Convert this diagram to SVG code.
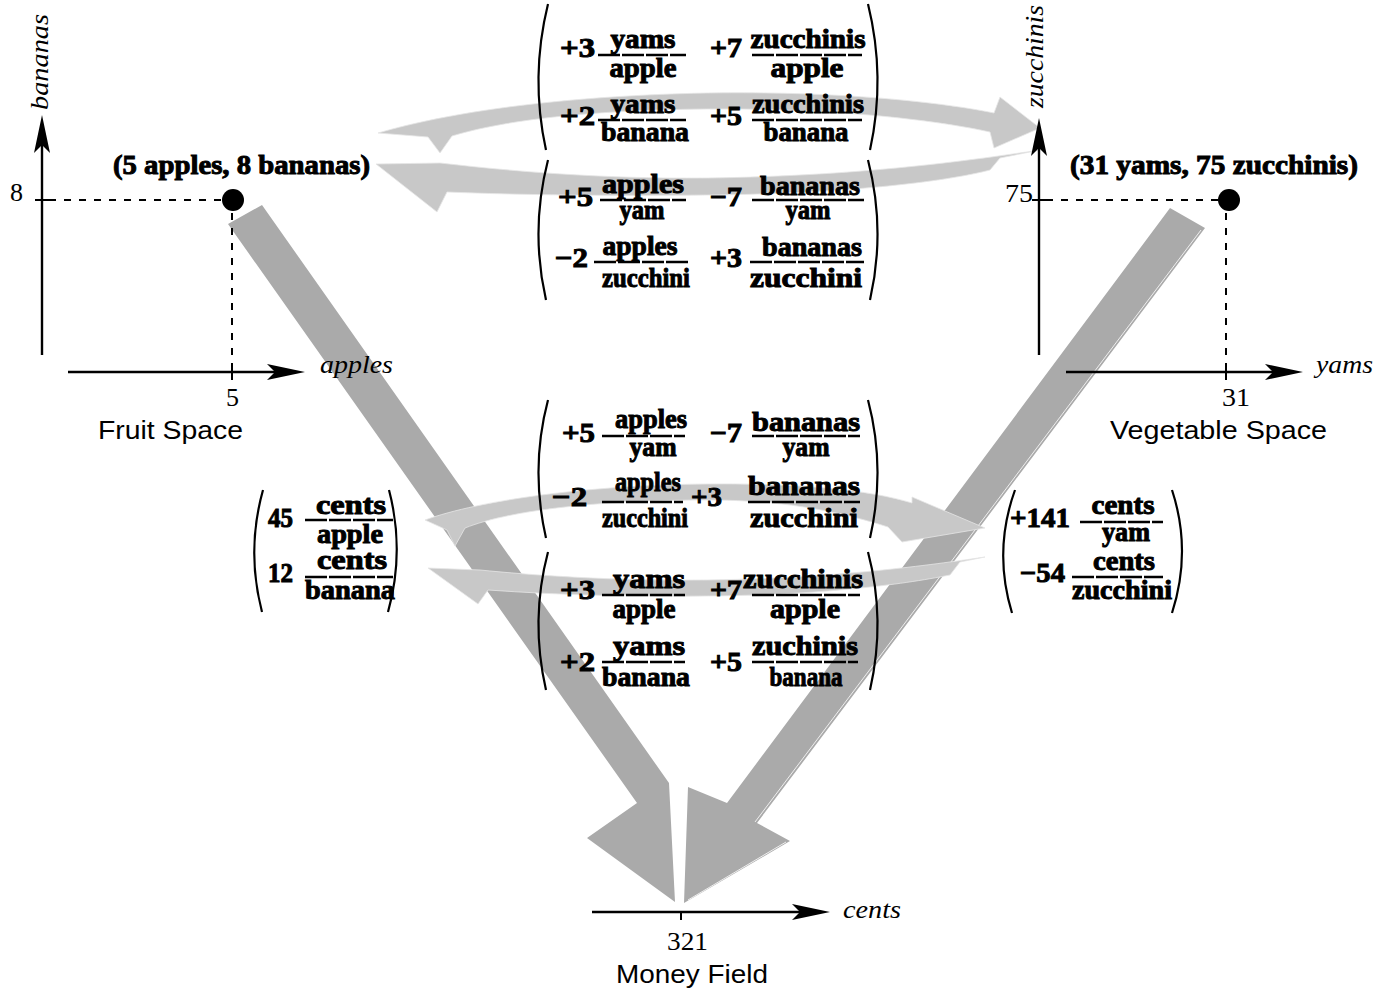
<svg xmlns="http://www.w3.org/2000/svg" width="1391" height="990" viewBox="0 0 1391 990">
<style>
.ax{stroke:#000;stroke-width:2.4;fill:none}
.tick{stroke:#000;stroke-width:2;fill:none}
.dash{stroke:#000;stroke-width:2;stroke-dasharray:7,8;fill:none}
.it{font-family:"Liberation Serif",serif;font-style:italic;font-size:26px;fill:#000}
.num{font-family:"Liberation Serif",serif;font-size:26px;fill:#000}
.sp{font-family:"Liberation Sans",Arial,sans-serif;font-size:26px;fill:#000}
.m{font-family:"Liberation Serif",serif;font-weight:bold;font-size:28px;fill:#000;stroke:#000;stroke-width:1}
.mc{font-family:"Liberation Serif",serif;font-weight:bold;font-size:28px;fill:#000;stroke:#000;stroke-width:1;text-anchor:middle}
.bar{stroke:#000;stroke-width:2.4;stroke-dasharray:22,2}
.par{stroke:#000;stroke-width:2.2;fill:none}
.big{fill:#aaaaaa}
.cur{fill:#c8c8c8;stroke:#e6e6e6;stroke-width:0.8}
.hl{stroke:#ffffff;stroke-width:1;fill:none;opacity:0.8}
</style>
<defs>
<path id="ah" d="M0,0 L-38,-8 L-30,0 L-38,8 Z" fill="#000"/>
</defs>

<rect width="1391" height="990" fill="#fff"/>

<g id="connectors">
  <path class="big" d="M228,224 L262,205 L669,783 L675,902 L587,838 L637,803 Z"/>
  <path class="big" d="M1170,208 L1205,228 L757,823 L790,841 L684,903 L688,787 L727,803 Z"/>
  <path class="hl" d="M1201,230 L755,822"/>
  <path class="hl" d="M671,786 L676,900"/>
  <path class="hl" d="M688,900 L786,842"/>
  <path class="cur" d="M378,133 C450,112 560,96 707,93 C840,91 940,102 994,113 L1000,97 L1040,128 L994,148 L990,132 C935,120 835,108 707,109 C590,110 505,120 452,136 L440,153 L428,137 Z"/>
  <path class="cur" d="M1040,150 C985,158 870,176 707,178 C600,179 510,171 440,163 L376,164 L437,212 L447,192 C520,195 610,196 707,195 C840,194 945,182 990,170 L1000,158 Z"/>
  <path class="cur" d="M425,520 C480,500 590,485 707,484 C800,483 870,490 912,503 L912,497 L985,528 L902,542 L888,527 C820,505 760,500 707,500 C600,500 510,510 465,528 L455,546 L447,530 Z"/>
  <path class="cur" d="M985,557 C930,565 840,578 707,580 C610,581 530,575 480,570 L428,568 L478,604 L488,590 C560,595 630,597 707,596 C820,595 900,585 950,575 L960,562 Z"/>
</g>

<g id="fruit-space">
  <line class="ax" x1="42" y1="355" x2="42" y2="125"/>
  <use href="#ah" transform="translate(42,115) rotate(-90)"/>
  <line class="ax" x1="68" y1="372" x2="295" y2="372"/>
  <use href="#ah" transform="translate(305,372)"/>
  <line class="tick" x1="232" y1="366" x2="232" y2="380"/>
  <line class="tick" x1="35" y1="200" x2="49" y2="200"/>
  <line class="dash" x1="49" y1="200" x2="222" y2="200"/>
  <line class="dash" x1="232" y1="213" x2="232" y2="366"/>
  <circle cx="233" cy="200" r="11" fill="#000"/>
  <text class="it" transform="translate(48,110) rotate(-90)" textLength="96" lengthAdjust="spacingAndGlyphs">bananas</text>
  <text class="it" x="320" y="373" textLength="73" lengthAdjust="spacingAndGlyphs">apples</text>
  <text class="num" x="10" y="201">8</text>
  <text class="num" x="226" y="406">5</text>
  <text class="sp" x="98" y="439" textLength="145" lengthAdjust="spacingAndGlyphs">Fruit Space</text>
  <text class="m" x="113" y="174" textLength="257" lengthAdjust="spacingAndGlyphs">(5 apples, 8 bananas)</text>
</g>

<g id="vegetable-space">
  <line class="ax" x1="1039" y1="355" x2="1039" y2="128"/>
  <use href="#ah" transform="translate(1039,118) rotate(-90)"/>
  <line class="ax" x1="1066" y1="372" x2="1293" y2="372"/>
  <use href="#ah" transform="translate(1303,372)"/>
  <line class="tick" x1="1226" y1="366" x2="1226" y2="380"/>
  <line class="tick" x1="1032" y1="200" x2="1046" y2="200"/>
  <line class="dash" x1="1046" y1="200" x2="1218" y2="200"/>
  <line class="dash" x1="1226" y1="213" x2="1226" y2="366"/>
  <circle cx="1229" cy="200" r="11" fill="#000"/>
  <text class="it" transform="translate(1043,108) rotate(-90)" textLength="103" lengthAdjust="spacingAndGlyphs">zucchinis</text>
  <text class="it" x="1316" y="373" textLength="57" lengthAdjust="spacingAndGlyphs">yams</text>
  <text class="num" x="1005" y="202" textLength="28" lengthAdjust="spacingAndGlyphs">75</text>
  <text class="num" x="1222" y="406" textLength="28" lengthAdjust="spacingAndGlyphs">31</text>
  <text class="sp" x="1110" y="439" textLength="217" lengthAdjust="spacingAndGlyphs">Vegetable Space</text>
  <text class="m" x="1070" y="174" textLength="288" lengthAdjust="spacingAndGlyphs">(31 yams, 75 zucchinis)</text>
</g>

<g id="money-field">
  <line class="ax" x1="592" y1="912" x2="820" y2="912"/>
  <use href="#ah" transform="translate(830,912)"/>
  <line class="tick" x1="681" y1="912" x2="681" y2="920"/>
  <text class="it" x="843" y="918" textLength="58" lengthAdjust="spacingAndGlyphs">cents</text>
  <text class="num" x="667" y="950" textLength="41" lengthAdjust="spacingAndGlyphs">321</text>
  <text class="sp" x="616" y="983" textLength="152" lengthAdjust="spacingAndGlyphs">Money Field</text>
</g>

<g id="matrix-fruit-to-veg">
  <path class="par" d="M548,4 Q530,77 546,150"/>
  <path class="par" d="M868,4 Q886,77 870,150"/>
  <text class="m" x="560" y="57" textLength="35" lengthAdjust="spacingAndGlyphs">+3</text>
  <line class="bar" x1="598" y1="55" x2="686" y2="55"/>
  <text class="mc" x="643" y="48" textLength="65" lengthAdjust="spacingAndGlyphs">yams</text>
  <text class="mc" x="643" y="77" textLength="67" lengthAdjust="spacingAndGlyphs">apple</text>
  <text class="m" x="710" y="57" textLength="32" lengthAdjust="spacingAndGlyphs">+7</text>
  <line class="bar" x1="752" y1="55" x2="862" y2="55"/>
  <text class="mc" x="808" y="48" textLength="115" lengthAdjust="spacingAndGlyphs">zucchinis</text>
  <text class="mc" x="807" y="77" textLength="73" lengthAdjust="spacingAndGlyphs">apple</text>
  <text class="m" x="560" y="125" textLength="35" lengthAdjust="spacingAndGlyphs">+2</text>
  <line class="bar" x1="598" y1="120" x2="686" y2="120"/>
  <text class="mc" x="643" y="113" textLength="65" lengthAdjust="spacingAndGlyphs">yams</text>
  <text class="mc" x="645" y="141" textLength="88" lengthAdjust="spacingAndGlyphs">banana</text>
  <text class="m" x="710" y="125" textLength="32" lengthAdjust="spacingAndGlyphs">+5</text>
  <line class="bar" x1="752" y1="120" x2="862" y2="120"/>
  <text class="mc" x="808" y="113" textLength="112" lengthAdjust="spacingAndGlyphs">zucchinis</text>
  <text class="mc" x="806" y="141" textLength="85" lengthAdjust="spacingAndGlyphs">banana</text>
</g>

<g id="matrix-veg-to-fruit">
  <path class="par" d="M548,160 Q530,230 546,300"/>
  <path class="par" d="M868,160 Q886,230 870,300"/>
  <text class="m" x="558" y="206" textLength="35" lengthAdjust="spacingAndGlyphs">+5</text>
  <line class="bar" x1="600" y1="200" x2="686" y2="200"/>
  <text class="mc" x="643" y="193" textLength="82" lengthAdjust="spacingAndGlyphs">apples</text>
  <text class="mc" x="642" y="219" textLength="45" lengthAdjust="spacingAndGlyphs">yam</text>
  <text class="m" x="710" y="206" textLength="32" lengthAdjust="spacingAndGlyphs">−7</text>
  <line class="bar" x1="752" y1="200" x2="864" y2="200"/>
  <text class="mc" x="810" y="195" textLength="100" lengthAdjust="spacingAndGlyphs">bananas</text>
  <text class="mc" x="808" y="219" textLength="45" lengthAdjust="spacingAndGlyphs">yam</text>
  <text class="m" x="555" y="267" textLength="33" lengthAdjust="spacingAndGlyphs">−2</text>
  <line class="bar" x1="594" y1="262" x2="688" y2="262"/>
  <text class="mc" x="640" y="255" textLength="75" lengthAdjust="spacingAndGlyphs">apples</text>
  <text class="mc" x="646" y="287" textLength="88" lengthAdjust="spacingAndGlyphs">zucchini</text>
  <text class="m" x="710" y="267" textLength="32" lengthAdjust="spacingAndGlyphs">+3</text>
  <line class="bar" x1="750" y1="262" x2="864" y2="262"/>
  <text class="mc" x="812" y="256" textLength="100" lengthAdjust="spacingAndGlyphs">bananas</text>
  <text class="mc" x="806" y="287" textLength="112" lengthAdjust="spacingAndGlyphs">zucchini</text>
</g>

<g id="matrix-veg-to-fruit-2">
  <path class="par" d="M548,400 Q530,468 546,538"/>
  <path class="par" d="M868,400 Q886,468 870,538"/>
  <text class="m" x="562" y="442" textLength="33" lengthAdjust="spacingAndGlyphs">+5</text>
  <line class="bar" x1="602" y1="436" x2="685" y2="436"/>
  <text class="mc" x="651" y="428" textLength="72" lengthAdjust="spacingAndGlyphs">apples</text>
  <text class="mc" x="653" y="456" textLength="47" lengthAdjust="spacingAndGlyphs">yam</text>
  <text class="m" x="710" y="442" textLength="32" lengthAdjust="spacingAndGlyphs">−7</text>
  <line class="bar" x1="752" y1="436" x2="860" y2="436"/>
  <text class="mc" x="806" y="431" textLength="108" lengthAdjust="spacingAndGlyphs">bananas</text>
  <text class="mc" x="806" y="456" textLength="47" lengthAdjust="spacingAndGlyphs">yam</text>
  <text class="m" x="552" y="506" textLength="35" lengthAdjust="spacingAndGlyphs">−2</text>
  <line class="bar" x1="602" y1="502" x2="683" y2="502"/>
  <text class="mc" x="648" y="491" textLength="66" lengthAdjust="spacingAndGlyphs">apples</text>
  <text class="mc" x="645" y="527" textLength="86" lengthAdjust="spacingAndGlyphs">zucchini</text>
  <text class="m" x="691" y="506" textLength="31" lengthAdjust="spacingAndGlyphs">+3</text>
  <line class="bar" x1="748" y1="502" x2="860" y2="502"/>
  <text class="mc" x="804" y="495" textLength="112" lengthAdjust="spacingAndGlyphs">bananas</text>
  <text class="mc" x="804" y="527" textLength="108" lengthAdjust="spacingAndGlyphs">zucchini</text>
</g>

<g id="matrix-fruit-to-veg-2">
  <path class="par" d="M548,552 Q530,620 546,690"/>
  <path class="par" d="M868,552 Q886,620 870,690"/>
  <text class="m" x="560" y="599" textLength="35" lengthAdjust="spacingAndGlyphs">+3</text>
  <line class="bar" x1="602" y1="595" x2="685" y2="595"/>
  <text class="mc" x="649" y="588" textLength="72" lengthAdjust="spacingAndGlyphs">yams</text>
  <text class="mc" x="644" y="618" textLength="63" lengthAdjust="spacingAndGlyphs">apple</text>
  <text class="m" x="710" y="599" textLength="32" lengthAdjust="spacingAndGlyphs">+7</text>
  <line class="bar" x1="752" y1="595" x2="860" y2="595"/>
  <text class="mc" x="803" y="588" textLength="120" lengthAdjust="spacingAndGlyphs">zucchinis</text>
  <text class="mc" x="805" y="618" textLength="70" lengthAdjust="spacingAndGlyphs">apple</text>
  <text class="m" x="560" y="671" textLength="35" lengthAdjust="spacingAndGlyphs">+2</text>
  <line class="bar" x1="602" y1="662" x2="685" y2="662"/>
  <text class="mc" x="649" y="655" textLength="72" lengthAdjust="spacingAndGlyphs">yams</text>
  <text class="mc" x="646" y="686" textLength="88" lengthAdjust="spacingAndGlyphs">banana</text>
  <text class="m" x="710" y="671" textLength="32" lengthAdjust="spacingAndGlyphs">+5</text>
  <line class="bar" x1="752" y1="662" x2="858" y2="662"/>
  <text class="mc" x="805" y="655" textLength="106" lengthAdjust="spacingAndGlyphs">zuchinis</text>
  <text class="mc" x="806" y="686" textLength="73" lengthAdjust="spacingAndGlyphs">banana</text>
</g>

<g id="covector-fruit">
  <path class="par" d="M263,490 Q246,551 262,612"/>
  <path class="par" d="M389,490 Q405,551 388,612"/>
  <text class="m" x="268" y="527" textLength="25" lengthAdjust="spacingAndGlyphs">45</text>
  <line class="bar" x1="305" y1="520" x2="393" y2="520"/>
  <text class="mc" x="351" y="514" textLength="70" lengthAdjust="spacingAndGlyphs">cents</text>
  <text class="mc" x="350" y="543" textLength="66" lengthAdjust="spacingAndGlyphs">apple</text>
  <text class="m" x="268" y="582" textLength="25" lengthAdjust="spacingAndGlyphs">12</text>
  <line class="bar" x1="305" y1="577" x2="393" y2="577"/>
  <text class="mc" x="352" y="569" textLength="70" lengthAdjust="spacingAndGlyphs">cents</text>
  <text class="mc" x="350" y="599" textLength="90" lengthAdjust="spacingAndGlyphs">banana</text>
</g>

<g id="covector-veg">
  <path class="par" d="M1015,490 Q993,551 1012,613"/>
  <path class="par" d="M1172,490 Q1192,551 1172,613"/>
  <text class="m" x="1010" y="527" textLength="60" lengthAdjust="spacingAndGlyphs">+141</text>
  <line class="bar" x1="1080" y1="522" x2="1163" y2="522"/>
  <text class="mc" x="1123" y="514" textLength="63" lengthAdjust="spacingAndGlyphs">cents</text>
  <text class="mc" x="1126" y="541" textLength="48" lengthAdjust="spacingAndGlyphs">yam</text>
  <text class="m" x="1020" y="582" textLength="45" lengthAdjust="spacingAndGlyphs">−54</text>
  <line class="bar" x1="1072" y1="577" x2="1163" y2="577"/>
  <text class="mc" x="1124" y="570" textLength="62" lengthAdjust="spacingAndGlyphs">cents</text>
  <text class="mc" x="1122" y="599" textLength="100" lengthAdjust="spacingAndGlyphs">zucchini</text>
</g>
</svg>
